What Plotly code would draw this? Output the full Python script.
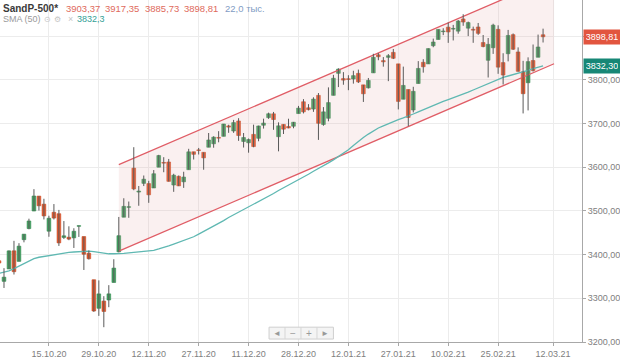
import plotly.graph_objects as go

# ---------------- data ----------------
dates = [
    "01.10.20", "02.10.20", "05.10.20", "06.10.20", "07.10.20", "08.10.20", "09.10.20", "12.10.20",
    "13.10.20", "14.10.20", "15.10.20", "16.10.20", "19.10.20", "20.10.20", "21.10.20", "22.10.20",
    "23.10.20", "26.10.20", "27.10.20", "28.10.20", "29.10.20", "30.10.20",
    "02.11.20", "03.11.20", "04.11.20", "05.11.20", "06.11.20", "09.11.20", "10.11.20", "11.11.20",
    "12.11.20", "13.11.20", "16.11.20", "17.11.20", "18.11.20", "19.11.20", "20.11.20", "23.11.20",
    "24.11.20", "25.11.20", "27.11.20", "30.11.20",
    "01.12.20", "02.12.20", "03.12.20", "04.12.20", "07.12.20", "08.12.20", "09.12.20", "10.12.20",
    "11.12.20", "14.12.20", "15.12.20", "16.12.20", "17.12.20", "18.12.20", "21.12.20", "22.12.20",
    "23.12.20", "24.12.20", "28.12.20", "29.12.20", "30.12.20", "31.12.20",
    "04.01.21", "05.01.21", "06.01.21", "07.01.21", "08.01.21", "11.01.21", "12.01.21", "13.01.21",
    "14.01.21", "15.01.21", "19.01.21", "20.01.21", "21.01.21", "22.01.21", "25.01.21", "26.01.21",
    "27.01.21", "28.01.21", "29.01.21",
    "01.02.21", "02.02.21", "03.02.21", "04.02.21", "05.02.21", "08.02.21", "09.02.21", "10.02.21",
    "11.02.21", "12.02.21", "16.02.21", "17.02.21", "18.02.21", "19.02.21", "22.02.21", "23.02.21",
    "24.02.21", "25.02.21", "26.02.21",
    "01.03.21", "02.03.21", "03.03.21", "04.03.21", "05.03.21", "08.03.21", "09.03.21", "10.03.21",
]
future_dates = ["11.03.21", "12.03.21"]

opens = [
    3385.9, 3338.9, 3367.3, 3408.7, 3384.6, 3434.3, 3459.7, 3500.0, 3534.0, 3515.5, 3453.7, 3497.0,
    3493.7, 3439.4, 3439.9, 3438.5, 3464.9, 3441.4, 3403.2, 3342.5, 3277.2, 3293.6,
    3296.2, 3336.3, 3406.5, 3485.7, 3508.3, 3598.0, 3543.3, 3563.2, 3562.7, 3552.6, 3600.2, 3610.3,
    3612.1, 3559.4, 3579.3, 3566.8, 3594.5, 3635.5, 3638.6, 3634.2,
    3645.9, 3653.8, 3668.3, 3670.9, 3694.7, 3683.1, 3706.0, 3659.1, 3656.1, 3675.3, 3666.4, 3696.3,
    3713.7, 3722.4, 3670.0, 3698.1, 3693.4, 3694.0, 3723.0, 3750.0, 3736.2, 3733.3,
    3764.6, 3698.0, 3712.2, 3764.7, 3815.1, 3803.1, 3801.6, 3802.2, 3815.0, 3788.7, 3781.9, 3816.2,
    3857.5, 3844.2, 3851.7, 3863.0, 3836.8, 3755.8, 3778.1,
    3731.2, 3791.8, 3840.3, 3836.7, 3878.3, 3892.6, 3910.5, 3920.8, 3916.4, 3911.7, 3939.6, 3918.5,
    3915.9, 3921.2, 3885.6, 3845.0, 3873.7, 3915.8, 3839.7,
    3860.0, 3903.6, 3864.0, 3818.5, 3793.6, 3844.4, 3851.9, 3903.37,
]
highs = [
    3397.2, 3369.1, 3409.6, 3431.6, 3426.3, 3447.3, 3482.3, 3549.9, 3534.0, 3527.9, 3489.1, 3515.8,
    3502.4, 3476.9, 3464.9, 3460.5, 3466.5, 3441.4, 3409.5, 3342.5, 3341.1, 3304.9,
    3330.1, 3389.5, 3486.3, 3529.1, 3521.6, 3646.0, 3557.2, 3581.2, 3569.0, 3593.7, 3628.5, 3623.1,
    3619.1, 3585.2, 3581.2, 3589.8, 3642.3, 3635.5, 3644.3, 3634.2,
    3678.5, 3671.0, 3682.7, 3699.2, 3697.4, 3708.5, 3712.4, 3678.5, 3665.9, 3697.6, 3695.3, 3711.3,
    3725.1, 3726.7, 3702.9, 3698.3, 3711.2, 3703.8, 3740.5, 3756.1, 3744.6, 3760.2,
    3770.0, 3737.8, 3783.0, 3811.6, 3826.7, 3817.9, 3810.8, 3821.0, 3823.6, 3788.7, 3804.5, 3859.8,
    3861.5, 3852.3, 3859.2, 3870.9, 3836.8, 3830.5, 3778.1,
    3784.3, 3843.1, 3847.5, 3872.4, 3894.6, 3915.8, 3918.4, 3931.5, 3926.0, 3937.2, 3950.4, 3933.6,
    3922.0, 3930.4, 3902.9, 3896.0, 3928.7, 3925.0, 3861.1,
    3914.5, 3906.4, 3874.5, 3843.7, 3851.7, 3881.1, 3903.8, 3917.35,
]
lows = [
    3361.4, 3323.7, 3367.3, 3354.5, 3384.6, 3428.2, 3458.1, 3499.6, 3500.9, 3480.6, 3440.9, 3480.5,
    3419.9, 3435.7, 3433.1, 3415.3, 3440.5, 3364.9, 3388.7, 3268.9, 3259.8, 3233.9,
    3279.7, 3336.3, 3405.2, 3485.7, 3484.3, 3547.5, 3511.9, 3557.0, 3518.6, 3552.6, 3600.2, 3588.7,
    3567.3, 3543.8, 3556.9, 3552.8, 3594.5, 3617.8, 3629.3, 3594.4,
    3645.9, 3644.8, 3657.2, 3670.9, 3678.9, 3678.8, 3660.5, 3645.2, 3633.4, 3645.8, 3659.6, 3688.6,
    3710.9, 3685.8, 3636.5, 3676.2, 3689.3, 3689.3, 3723.0, 3723.3, 3730.2, 3726.9,
    3662.7, 3695.1, 3705.3, 3764.7, 3783.6, 3789.0, 3776.5, 3791.5, 3792.9, 3749.6, 3780.4, 3816.2,
    3845.1, 3830.4, 3797.2, 3847.8, 3732.5, 3755.8, 3694.1,
    3725.6, 3791.8, 3816.7, 3836.7, 3874.9, 3892.6, 3902.6, 3884.9, 3890.4, 3905.8, 3923.9, 3900.4,
    3885.0, 3903.1, 3874.7, 3805.6, 3859.6, 3814.0, 3789.5,
    3842.5, 3868.6, 3818.9, 3723.3, 3730.2, 3819.3, 3851.9, 3885.73,
]
closes = [
    3380.8, 3348.4, 3408.6, 3361.0, 3419.4, 3446.8, 3477.1, 3534.2, 3511.9, 3488.7, 3483.3, 3483.8,
    3426.9, 3443.1, 3435.6, 3453.5, 3465.4, 3401.0, 3390.7, 3271.0, 3310.1, 3270.0,
    3310.2, 3369.2, 3443.4, 3510.5, 3509.4, 3550.5, 3545.5, 3572.7, 3537.0, 3585.2, 3626.9, 3609.5,
    3567.8, 3581.9, 3557.5, 3577.6, 3635.4, 3629.7, 3638.4, 3621.6,
    3662.5, 3669.0, 3666.7, 3699.1, 3692.0, 3702.3, 3672.8, 3668.1, 3663.5, 3647.5, 3694.6, 3701.2,
    3722.5, 3709.4, 3694.9, 3687.3, 3690.0, 3703.1, 3735.4, 3727.0, 3732.0, 3756.1,
    3700.7, 3726.9, 3748.1, 3803.8, 3824.7, 3799.6, 3801.2, 3809.8, 3795.5, 3768.3, 3798.9, 3851.9,
    3853.1, 3841.5, 3855.4, 3849.6, 3750.8, 3787.4, 3714.2,
    3773.9, 3826.3, 3830.2, 3871.7, 3886.8, 3915.6, 3911.2, 3909.9, 3916.4, 3934.8, 3932.6, 3931.3,
    3914.0, 3906.7, 3876.5, 3881.4, 3925.4, 3829.3, 3811.2,
    3901.8, 3870.3, 3819.7, 3768.5, 3841.9, 3821.4, 3875.4, 3898.81,
]
sma50 = [
    3357, 3360, 3363, 3368, 3374, 3380, 3386, 3391, 3394, 3396, 3398, 3400, 3402, 3404, 3405, 3406,
    3407, 3408, 3408, 3407, 3405, 3403, 3402, 3402, 3402, 3403, 3404, 3405, 3406, 3407, 3408, 3410,
    3413, 3416, 3420, 3424, 3428, 3432, 3436, 3441, 3447, 3453, 3460, 3466, 3472, 3478, 3485, 3491,
    3497, 3503, 3509, 3516, 3522, 3528, 3534, 3540, 3547, 3553, 3559, 3565, 3572, 3578, 3584, 3591,
    3597, 3603, 3610, 3617, 3624, 3631, 3640, 3650, 3660, 3668, 3676, 3684, 3690, 3695, 3700, 3705,
    3709, 3713, 3717, 3722, 3727, 3732, 3737, 3742, 3747, 3751, 3755, 3759, 3763, 3767, 3772, 3777,
    3782, 3787, 3792, 3797, 3802, 3806, 3809, 3812, 3815, 3818, 3822, 3826, 3829, 3832.3,
]
volume_text = "22,0 тыс."
instrument = "SandP-500*"

# trend channel: anchor bar positions and prices of lower / upper lines
channel_x = [24, 111.2]
channel_lower = [3408, 3837]
channel_upper = [3606, 4035]

tick_labels = ["15.10.20", "29.10.20", "12.11.20", "27.11.20", "11.12.20", "28.12.20",
               "12.01.21", "27.01.21", "10.02.21", "25.02.21", "12.03.21"]
y_ticks = [3200, 3300, 3400, 3500, 3600, 3700, 3800, 3900]

n = len(dates)
assert len(opens) == n and len(highs) == n and len(lows) == n and len(closes) == n and len(sma50) == n, \
    (n, len(opens), len(highs), len(lows), len(closes), len(sma50))

# ---------------- styling ----------------
UP = "#44a363"
UP_EDGE = "#2f8a4d"
DN = "#e35a30"
DN_EDGE = "#c9461f"
WICK = "#5a5a5a"
SMA_C = "#5fb8b2"
CH_C = "#e05d66"
GRID = "#ececec"
AX = "#a8a8a8"
TXT = "#808080"
FONT = "Liberation Sans, Arial, sans-serif"

axis_dates = dates + future_dates
xs = list(range(n))
tickvals = [axis_dates.index(t) for t in tick_labels]

fig = go.Figure()

# channel fill
fig.add_trace(go.Scatter(
    x=[channel_x[0], channel_x[1], channel_x[1], channel_x[0]],
    y=[channel_lower[0], channel_lower[1], channel_upper[1], channel_upper[0]],
    fill="toself", fillcolor="rgba(222,160,160,0.16)", line=dict(width=0),
    mode="lines", hoverinfo="skip"))
# channel lines
for ln in (channel_lower, channel_upper):
    fig.add_trace(go.Scatter(x=channel_x, y=ln, mode="lines",
                             line=dict(color=CH_C, width=1.3), hoverinfo="skip"))
# SMA
fig.add_trace(go.Scatter(x=xs, y=sma50, mode="lines",
                         line=dict(color=SMA_C, width=1.3), hoverinfo="skip"))

# wicks
wx, wy = [], []
for i in range(n):
    wx += [xs[i], xs[i], None]
    wy += [lows[i], highs[i], None]
fig.add_trace(go.Scatter(x=wx, y=wy, mode="lines", line=dict(color=WICK, width=1),
                         hoverinfo="skip"))

# bodies
base = [min(o, c) for o, c in zip(opens, closes)]
height = [max(abs(c - o), 1.5) for o, c in zip(opens, closes)]
colors = [UP if c >= o else DN for o, c in zip(opens, closes)]
edges = [UP_EDGE if c >= o else DN_EDGE for o, c in zip(opens, closes)]
fig.add_trace(go.Bar(x=xs, y=height, base=base, width=0.74,
                     marker=dict(color=colors, line=dict(color=edges, width=0.6)),
                     hoverinfo="skip"))

PW, PH = 583.0, 346.0


def px(xp):
    return xp / PW


def py(yp):
    return 1 - yp / PH


ann = []
# legend row 1
ann.append(dict(x=px(1), y=py(9), text="<b>%s</b>" % instrument, font=dict(size=10, color="#3a3a3a")))
ohlc_vals = [opens[-1], highs[-1], lows[-1], closes[-1]]
ohlc_x = [64, 103.5, 143, 182.5]
for v, xp in zip(ohlc_vals, ohlc_x):
    ann.append(dict(x=px(xp), y=py(9), text=("%.2f" % v).replace(".", ","),
                    font=dict(size=9.5, color="#e06a5c")))
ann.append(dict(x=px(223), y=py(9), text=volume_text, font=dict(size=9.5, color="#7f9cc4")))
# legend row 2
ann.append(dict(x=px(1.5), y=py(19.5), text="SMA (50)", font=dict(size=9, color="#9a9a9a")))
ann.append(dict(x=px(42), y=py(19.5), text="⊙", font=dict(size=8, color="#c4c4c4")))
ann.append(dict(x=px(52.5), y=py(19.5), text="⚙", font=dict(size=8, color="#c4c4c4")))
ann.append(dict(x=px(66), y=py(19.5), text="×", font=dict(size=9, color="#c4c4c4")))
ann.append(dict(x=px(75.5), y=py(19.5), text=("%.1f" % sma50[-1]).replace(".", ","),
                font=dict(size=9, color="#35a096")))
for a in ann:
    a.update(xref="paper", yref="paper", xanchor="left", yanchor="middle", showarrow=False)

# price tags
for val, bg in ((closes[-1], "#e2553f"), (sma50[-1], "#178776")):
    ann.append(dict(x=1, xref="paper", xanchor="left", xshift=1, y=val, yref="y",
                    yanchor="middle", text=("%.2f" % val).replace(".", ","), showarrow=False,
                    font=dict(size=9, color="white"), bgcolor=bg, borderpad=2, width=32))

# navigation buttons
shapes = []
bx0, bx1, by0, by1 = 269.5, 334, 331, 343
shapes.append(dict(type="rect", xref="paper", yref="paper", x0=px(bx0), x1=px(bx1),
                   y0=py(by1), y1=py(by0), fillcolor="#f4f4f4", line=dict(color="#cfcfcf", width=1)))
for d in (285.5, 301.5, 317.5):
    shapes.append(dict(type="line", xref="paper", yref="paper", x0=px(d), x1=px(d),
                       y0=py(by1), y1=py(by0), line=dict(color="#d6d6d6", width=1)))
for g, cx in (("◄", 277.5), ("−", 293.5), ("+", 309.5), ("►", 326)):
    ann.append(dict(x=px(cx), y=py(337), xref="paper", yref="paper", xanchor="center",
                    yanchor="middle", text=g, showarrow=False,
                    font=dict(size=8 if g in "◄►" else 10, color="#9a9a9a")))

# the 3900 label sits under the last-price tag, so it is left blank
y_ticktext = [("%.2f" % v).replace(".", ",") if v != 3900 else "" for v in y_ticks]

fig.update_layout(
    width=620, height=359, autosize=False,
    margin=dict(l=0, r=37, t=0, b=13, pad=0),
    paper_bgcolor="white", plot_bgcolor="white",
    showlegend=False, bargap=0,
    font=dict(family=FONT, size=9, color=TXT),
    annotations=ann, shapes=shapes,
    xaxis=dict(range=[0.2, 116.8], tickmode="array", tickvals=tickvals, ticktext=tick_labels,
               showgrid=True, gridcolor=GRID, gridwidth=1, zeroline=False,
               showline=True, linecolor=AX, linewidth=1, ticks="outside", ticklen=3,
               tickcolor=AX, tickfont=dict(size=9, color=TXT, family=FONT), fixedrange=True),
    yaxis=dict(range=[3200, 3983], side="right", tickmode="array", tickvals=y_ticks,
               ticktext=y_ticktext,
               showgrid=True, gridcolor=GRID, gridwidth=1, zeroline=False,
               showline=True, linecolor=AX, linewidth=1, ticks="outside", ticklen=3,
               tickcolor=AX, tickfont=dict(size=9, color=TXT, family=FONT), fixedrange=True),
)

fig.write_html("out.html", config={"displayModeBar": False, "staticPlot": True})
